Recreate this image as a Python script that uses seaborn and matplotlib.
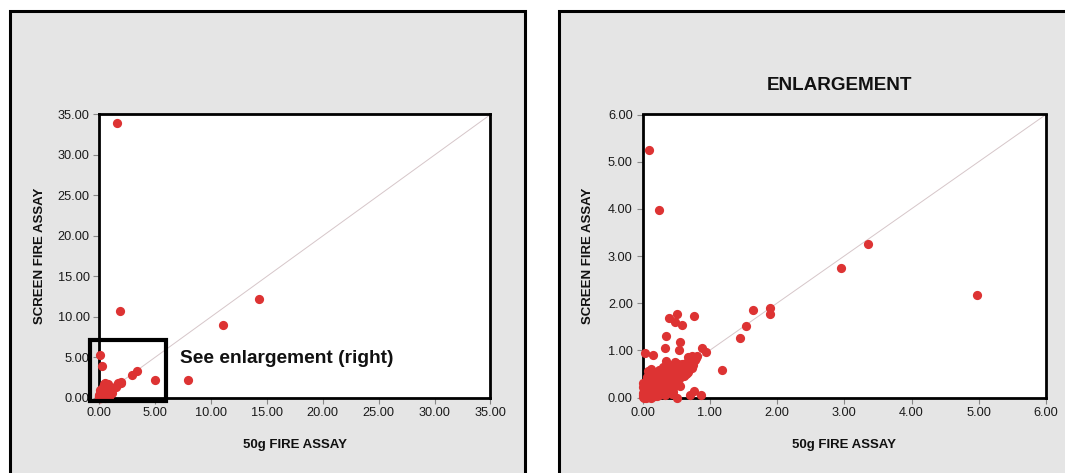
import matplotlib
matplotlib.use("Agg")
import matplotlib.pyplot as plt
from matplotlib.patches import Rectangle
from matplotlib.ticker import FormatStrFormatter
import seaborn as sns
import pandas as pd

# Gold assays (g/t): 50 g fire assay vs screen fire assay on the same samples
fire_assay_50g = [
    1.54, 1.83, 14.30, 11.10, 7.90, 4.98, 3.35, 2.95,
    0.09, 0.25, 1.90, 1.90, 1.64, 1.54, 1.45, 1.18,
    0.77, 0.51, 0.40, 0.48, 0.58, 0.35, 0.56, 0.33, 0.54, 0.03, 0.16,
    0.88, 0.94, 0.81, 0.73, 0.68, 0.49, 0.35, 0.56, 0.77, 0.87, 0.70, 0.51, 0.08,
    0.01, 0.02, 0.03, 0.04, 0.05, 0.06, 0.07, 0.08, 0.09, 0.10,
    0.11, 0.12, 0.13, 0.14, 0.15, 0.16, 0.17, 0.18, 0.19, 0.20,
    0.21, 0.22, 0.23, 0.24, 0.25, 0.26, 0.27, 0.28, 0.29, 0.30,
    0.31, 0.32, 0.33, 0.34, 0.35, 0.36, 0.37, 0.38, 0.39, 0.40,
    0.41, 0.42, 0.43, 0.44, 0.45, 0.46, 0.47, 0.48, 0.50, 0.52,
    0.53, 0.55, 0.57, 0.59, 0.60, 0.62, 0.64, 0.66, 0.70, 0.72,
    0.75, 0.78, 0.05, 0.10, 0.15, 0.20, 0.25, 0.30, 0.35, 0.40,
    0.45, 0.28, 0.18, 0.12, 0.02, 0.01, 0.00, 0.03, 0.05, 0.08,
    0.04, 0.00, 0.02, 0.00, 0.06, 0.10, 0.14, 0.07, 0.20, 0.24,
    0.15, 0.30, 0.12, 0.22, 0.38, 0.44, 0.62, 0.66, 0.74, 0.50,
    0.32, 0.42, 0.26, 0.36, 0.48, 0.18, 0.58, 0.68, 0.80, 0.46,
    0.40, 0.54, 0.64, 0.28, 0.34, 0.22, 0.16, 0.11, 0.06, 0.44,
]
screen_fire_assay = [
    34.00, 10.75, 12.20, 8.95, 2.15, 2.18, 3.25, 2.75,
    5.25, 3.97, 1.89, 1.77, 1.86, 1.51, 1.27, 0.59,
    1.73, 1.76, 1.69, 1.61, 1.53, 1.31, 1.17, 1.06, 1.01, 0.94, 0.90,
    1.04, 0.96, 0.89, 0.87, 0.85, 0.76, 0.78, 0.24, 0.13, 0.06, 0.06, 0.00, 0.56,
    0.02, 0.05, 0.01, 0.08, 0.03, 0.12, 0.05, 0.15, 0.07, 0.20,
    0.09, 0.14, 0.25, 0.10, 0.18, 0.30, 0.12, 0.22, 0.35, 0.16,
    0.27, 0.40, 0.19, 0.30, 0.45, 0.22, 0.33, 0.50, 0.26, 0.37,
    0.55, 0.29, 0.42, 0.60, 0.33, 0.46, 0.52, 0.36, 0.49, 0.62,
    0.40, 0.55, 0.45, 0.58, 0.68, 0.44, 0.60, 0.52, 0.64, 0.56,
    0.70, 0.60, 0.66, 0.72, 0.58, 0.68, 0.74, 0.64, 0.70, 0.76,
    0.68, 0.80, 0.00, 0.02, 0.04, 0.06, 0.05, 0.10, 0.12, 0.15,
    0.20, 0.08, 0.03, 0.00, 0.15, 0.22, 0.30, 0.28, 0.35, 0.32,
    0.18, 0.10, 0.00, 0.05, 0.25, 0.38, 0.42, 0.44, 0.50, 0.58,
    0.55, 0.65, 0.60, 0.10, 0.22, 0.30, 0.45, 0.52, 0.62, 0.36,
    0.18, 0.28, 0.08, 0.20, 0.34, 0.40, 0.46, 0.54, 0.84, 0.12,
    0.50, 0.40, 0.50, 0.42, 0.06, 0.04, 0.45, 0.32, 0.40, 0.08,
]

x_ticks_full = [0, 5, 10, 15, 20, 25, 30, 35]
x_ticks_zoom = [0, 1, 2, 3, 4, 5, 6]
full_max = 35.0
zoom_max = 6.0
x_label = "50g FIRE ASSAY"
y_label = "SCREEN FIRE ASSAY"
zoom_title = "ENLARGEMENT"
callout = "See enlargement (right)"

assays = pd.DataFrame({"fa50": fire_assay_50g, "sfa": screen_fire_assay})

sns.set_theme(style="white")
plt.rcParams["font.family"] = ["Liberation Sans", "DejaVu Sans"]

W, H = 1065, 473
fig = plt.figure(figsize=(W / 100, H / 100), dpi=100, facecolor="white")

# grey chart-area panels behind each plot
panel_kw = dict(transform=fig.transFigure, facecolor="#e5e5e5", edgecolor="black",
                linewidth=2.2, zorder=-10)
fig.add_artist(Rectangle((10 / W, -0.1), (525 - 10) / W, 0.1 + (H - 11.5) / H, **panel_kw))
fig.add_artist(Rectangle((559 / W, -0.1), 0.5, 0.1 + (H - 11.5) / H, **panel_kw))

def px_axes(left, top, right, bottom):
    return fig.add_axes([left / W, (H - bottom) / H, (right - left) / W, (bottom - top) / H])

ax_full = px_axes(99.3, 114.5, 490.5, 397.7)
ax_zoom = px_axes(642.5, 114.5, 1046.0, 397.5)

point_color = "#dd3333"
point_size = 44

def style_axes(ax, vmax, ticks):
    ax.set_facecolor("white")
    ax.set_xlim(0, vmax)
    ax.set_ylim(0, vmax)
    ax.set_xticks(ticks)
    ax.set_yticks(ticks)
    ax.xaxis.set_major_formatter(FormatStrFormatter("%.2f"))
    ax.yaxis.set_major_formatter(FormatStrFormatter("%.2f"))
    for s in ax.spines.values():
        s.set_visible(True)
        s.set_color("black")
        s.set_linewidth(2.0)
    ax.tick_params(axis="both", which="major", direction="out", length=4, width=0.8,
                   color="#888888", labelsize=9.2, labelcolor="#1a1a1a", pad=3,
                   bottom=True, left=True)
    ax.plot([0, vmax], [0, vmax], color="#d6c6c9", linewidth=0.7, zorder=1)

# full-range plot
style_axes(ax_full, full_max, x_ticks_full)
sns.scatterplot(data=assays, x="fa50", y="sfa", ax=ax_full, color=point_color,
                s=point_size, linewidth=0, zorder=3, clip_on=False, legend=False)
ax_full.set_xlabel(x_label, fontsize=9.5, fontweight="bold", color="#111111")
ax_full.set_ylabel(y_label, fontsize=9.5, fontweight="bold", color="#111111")
ax_full.xaxis.set_label_coords(0.5, -0.145)
ax_full.yaxis.set_label_coords(-0.136, 0.5)
ax_full.add_patch(Rectangle((-0.8, -0.4), 6.8, 7.5, fill=False, edgecolor="black",
                            linewidth=3.0, clip_on=False, zorder=4))
ax_full.text(7.25, 4.9, callout, fontsize=13.8, fontweight="bold", color="#111111",
             ha="left", va="center", zorder=5)

# enlargement of the low-grade region
inside = assays[(assays["fa50"] <= zoom_max) & (assays["sfa"] <= zoom_max)]
style_axes(ax_zoom, zoom_max, x_ticks_zoom)
sns.scatterplot(data=inside, x="fa50", y="sfa", ax=ax_zoom, color=point_color,
                s=point_size, linewidth=0, zorder=3, clip_on=False, legend=False)
ax_zoom.set_xlabel(x_label, fontsize=9.5, fontweight="bold", color="#111111")
ax_zoom.set_ylabel(y_label, fontsize=9.5, fontweight="bold", color="#111111")
ax_zoom.xaxis.set_label_coords(0.5, -0.1466)
ax_zoom.yaxis.set_label_coords(-0.120, 0.5)
ax_zoom.set_title(zoom_title, fontsize=13.6, fontweight="bold", color="#111111",
                  pad=18, x=0.489)

fig.savefig("out.png", dpi=100, facecolor="white")
